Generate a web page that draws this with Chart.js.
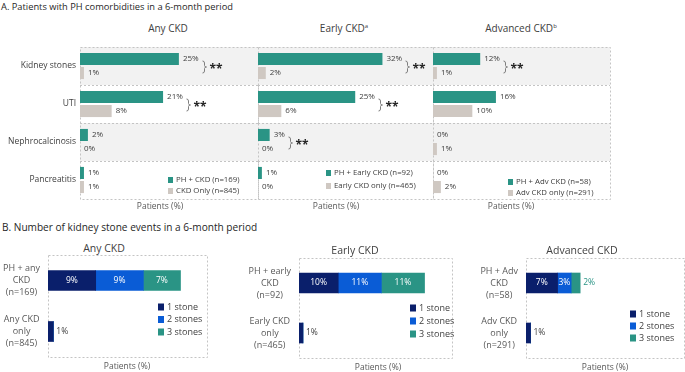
<!DOCTYPE html>
<html lang="en">
<head>
  <meta charset="UTF-8" />
  <meta name="viewport" content="width=device-width, initial-scale=1.0"/>
  <title>PH comorbidities and kidney stone events</title>
  <script src="https://cdn.jsdelivr.net/npm/chart.js"></script>
  <style>
    body {
      margin: 0;
      background: #fff;
      font-family: "Open Sans", Arial, sans-serif;
      color: #404040;
    }
    #page {
      position: relative;
      width: 685px;
      height: 372px;
      overflow: hidden;
    }
    .box { position: absolute; }
    .txt {
      position: absolute;
      white-space: nowrap;
      line-height: 1;
      transform: translate(-50%, -50%);
    }
    .head {
      position: absolute;
      white-space: nowrap;
      line-height: 1;
      color: #262626;
      transform: translateY(-50%);
    }
    .title { font-size: 10px; color: #404040; }
    .axis { font-size: 8.5px; color: #595959; }
    sup { font-size: 6px; vertical-align: 4px; }
  </style>
</head>
<body>
<div id="page">
  <div class="head" style="left:1px; top:7px; font-size:9.3px;">A. Patients with PH comorbidities in a 6-month period</div>
  <div class="txt title" style="left:168px; top:28px;">Any CKD</div>
  <div class="txt title" style="left:344px; top:28px;">Early CKD<sup>a</sup></div>
  <div class="txt title" style="left:521px; top:28px;">Advanced CKD<sup>b</sup></div>

  <div class="box" style="left:0px; top:44px; width:262px; height:160px;"><canvas id="topAny"></canvas></div>
  <div class="box" style="left:254px; top:44px; width:183px; height:160px;"><canvas id="topEarly"></canvas></div>
  <div class="box" style="left:429px; top:44px; width:185px; height:160px;"><canvas id="topAdv"></canvas></div>

  <div class="txt axis" style="left:160px; top:206px;">Patients (%)</div>
  <div class="txt axis" style="left:336px; top:206px;">Patients (%)</div>
  <div class="txt axis" style="left:511px; top:206px;">Patients (%)</div>

  <div class="head" style="left:2px; top:227px; font-size:10.1px;">B. Number of kidney stone events in a 6-month period</div>
  <div class="txt title" style="left:104px; top:248px; font-size:10.5px;">Any CKD</div>
  <div class="txt title" style="left:355px; top:250px; font-size:10.5px;">Early CKD</div>
  <div class="txt title" style="left:582px; top:250px; font-size:10.5px;">Advanced CKD</div>

  <div class="box" style="left:0px; top:250px; width:212px; height:112px;"><canvas id="botAny"></canvas></div>
  <div class="box" style="left:240px; top:253px; width:217px; height:110px;"><canvas id="botEarly"></canvas></div>
  <div class="box" style="left:466px; top:253px; width:219px; height:110px;"><canvas id="botAdv"></canvas></div>

  <div class="txt axis" style="left:127px; top:366px;">Patients (%)</div>
  <div class="txt axis" style="left:378px; top:367px;">Patients (%)</div>
  <div class="txt axis" style="left:605px; top:367px;">Patients (%)</div>
</div>

<script>
  // A. comorbidities (% of patients)
  const comorbidities = ['Kidney stones', 'UTI', 'Nephrocalcinosis', 'Pancreatitis'];
  const phAnyCkd = [25, 21, 2, 1];
  const anyCkdOnly = [1, 8, 0, 1];
  const phEarlyCkd = [32, 25, 3, 1];
  const earlyCkdOnly = [2, 6, 0, 0];
  const phAdvCkd = [12, 16, 0, 0];
  const advCkdOnly = [1, 10, 1, 2];
  // ** significance marks per row
  const sigAny = [true, true, false, false];
  const sigEarly = [true, true, true, false];
  const sigAdv = [true, false, false, false];

  // B. kidney stone events (% of patients)
  const stoneCounts = ['1 stone', '2 stones', '3 stones'];
  const anyGroups = [['PH + any', 'CKD', '(n=169)'], ['Any CKD', 'only', '(n=845)']];
  const anyOneStone = [9, 1];
  const anyTwoStones = [9, 0];
  const anyThreeStones = [7, 0];
  const earlyGroups = [['PH + early', 'CKD', '(n=92)'], ['Early CKD', 'only', '(n=465)']];
  const earlyOneStone = [10, 1];
  const earlyTwoStones = [11, 0];
  const earlyThreeStones = [11, 0];
  const advGroups = [['PH + Adv', 'CKD', '(n=58)'], ['Adv CKD', 'only', '(n=291)']];
  const advOneStone = [7, 1];
  const advTwoStones = [3, 0];
  const advThreeStones = [2, 0];

  const TEAL = '#2a9485';
  const GRAY = '#cfc8c2';
  const NAVY = '#0a1f6b';
  const BLUE = '#0a5cd6';
  const FONT = '"Open Sans", Arial, sans-serif';

  Chart.defaults.font.family = FONT;
  Chart.defaults.color = '#404040';

  // background bands, dashed frame and row separators
  const panelDecor = {
    id: 'panelDecor',
    beforeDatasetsDraw(chart, args, opts) {
      const { ctx, chartArea: a } = chart;
      const y = chart.scales.y;
      const n = chart.data.labels.length;
      const h = (a.bottom - a.top) / n;
      ctx.save();
      if (opts.bands) {
        ctx.fillStyle = '#f2f2f2';
        for (let i = 0; i < n; i += 2) {
          ctx.fillRect(a.left, y.getPixelForValue(i) - h / 2, a.right - a.left, h);
        }
      }
      ctx.strokeStyle = '#c4c4c4';
      ctx.lineWidth = 1;
      ctx.setLineDash([2, 2]);
      if (opts.bands) {
        for (let i = 1; i < n; i++) {
          const yy = Math.round(y.getPixelForValue(i) - h / 2) + 0.5;
          ctx.beginPath();
          ctx.moveTo(a.left, yy);
          ctx.lineTo(a.right, yy);
          ctx.stroke();
        }
      }
      ctx.strokeRect(Math.round(a.left) + 0.5, Math.round(a.top) + 0.5,
        Math.round(a.right - a.left), Math.round(a.bottom - a.top));
      ctx.restore();
    }
  };

  // value labels next to / inside the bars
  const valueLabels = {
    id: 'valueLabels',
    afterDatasetsDraw(chart, args, opts) {
      const { ctx } = chart;
      ctx.save();
      ctx.font = opts.font;
      ctx.textBaseline = 'middle';
      chart.data.datasets.forEach((ds, di) => {
        chart.getDatasetMeta(di).data.forEach((bar, i) => {
          const v = ds.data[i];
          const txt = v + '%';
          if (!opts.stacked) {
            ctx.fillStyle = '#404040';
            ctx.textAlign = 'left';
            ctx.fillText(txt, bar.x + 4, bar.y);
            return;
          }
          if (!v) return;
          const w = bar.x - bar.base;
          if (w >= 12) {
            ctx.fillStyle = '#ffffff';
            ctx.textAlign = 'center';
            ctx.fillText(txt, (bar.x + bar.base) / 2, bar.y);
          } else {
            const others = chart.data.datasets.some((d, k) => k !== di && d.data[i] > 0);
            ctx.fillStyle = others ? ds.backgroundColor : '#404040';
            ctx.textAlign = 'left';
            ctx.fillText(txt, bar.x + 3, bar.y);
          }
        });
      });
      ctx.restore();
    }
  };

  // "}" bracket with ** for significant rows
  const sigBrackets = {
    id: 'sigBrackets',
    afterDatasetsDraw(chart, args, opts) {
      if (!opts.marks) return;
      const { ctx } = chart;
      const m0 = chart.getDatasetMeta(0), m1 = chart.getDatasetMeta(1);
      const d0 = chart.data.datasets[0].data, d1 = chart.data.datasets[1].data;
      ctx.save();
      opts.marks.forEach((on, i) => {
        if (!on) return;
        ctx.font = opts.labelFont;
        const b0 = m0.data[i], b1 = m1.data[i];
        const e0 = b0.x + 4 + ctx.measureText(d0[i] + '%').width;
        const e1 = b1.x + 4 + ctx.measureText(d1[i] + '%').width;
        const x = Math.round(Math.max(e0, e1) + 3) + 0.5;
        const mid = (b0.y + b1.y) / 2 + 1;
        const t = mid - 6, b = mid + 6;
        ctx.strokeStyle = '#7f7f7f';
        ctx.lineWidth = 1;
        ctx.beginPath();
        ctx.moveTo(x, t);
        ctx.quadraticCurveTo(x + 2, t, x + 2, t + 2);
        ctx.lineTo(x + 2, mid - 1.5);
        ctx.quadraticCurveTo(x + 2, mid, x + 4, mid);
        ctx.quadraticCurveTo(x + 2, mid, x + 2, mid + 1.5);
        ctx.lineTo(x + 2, b - 2);
        ctx.quadraticCurveTo(x + 2, b, x, b);
        ctx.stroke();
        ctx.fillStyle = '#262626';
        ctx.font = 'bold 12px ' + FONT;
        ctx.textAlign = 'left';
        ctx.textBaseline = 'middle';
        ctx.fillText('**', x + 7, mid + 3);
      });
      ctx.restore();
    }
  };

  // small square legend drawn inside the plot area
  const boxLegend = {
    id: 'boxLegend',
    afterDraw(chart, args, opts) {
      const { ctx, chartArea: a } = chart;
      ctx.save();
      ctx.font = opts.font;
      ctx.textBaseline = 'middle';
      ctx.textAlign = 'left';
      chart.data.datasets.forEach((ds, i) => {
        const y = a.top + opts.y + i * opts.gap;
        ctx.fillStyle = ds.backgroundColor;
        ctx.fillRect(a.left + opts.x, y - opts.size / 2, opts.size - 1, opts.size);
        ctx.fillStyle = opts.color;
        ctx.fillText(ds.label, a.left + opts.x + opts.size + 2, y);
      });
      ctx.restore();
    }
  };

  function topChart(id, labels, phData, onlyData, marks, padding, showLabels, legendPos) {
    new Chart(document.getElementById(id), {
      type: 'bar',
      data: {
        labels: comorbidities,
        datasets: [
          { label: labels[0], data: phData, backgroundColor: TEAL,
            categoryPercentage: 0.74, barPercentage: 0.86 },
          { label: labels[1], data: onlyData, backgroundColor: GRAY,
            categoryPercentage: 0.74, barPercentage: 0.86 }
        ]
      },
      options: {
        indexAxis: 'y',
        responsive: true,
        maintainAspectRatio: false,
        animation: false,
        layout: { padding },
        scales: {
          x: { display: false, min: 0, max: 45 },
          y: {
            display: showLabels,
            grid: { display: false, drawTicks: false },
            border: { display: false },
            ticks: { padding: 4, autoSkip: false, font: { size: 8.5 }, color: '#404040' },
            afterFit(axis) {
              axis.width = showLabels ? 80 : 0;
              axis.paddingTop = 0;
              axis.paddingBottom = 0;
            }
          }
        },
        plugins: {
          legend: { display: false },
          tooltip: { enabled: false },
          panelDecor: { bands: true },
          valueLabels: { font: '8px ' + FONT, stacked: false },
          sigBrackets: { marks, labelFont: '8px ' + FONT },
          boxLegend: Object.assign({ font: '7.8px ' + FONT, color: '#404040', size: 6 }, legendPos)
        }
      },
      plugins: [panelDecor, valueLabels, sigBrackets, boxLegend]
    });
  }

  function stoneChart(id, groups, one, two, three, axisWidth, padding, max, legendPos) {
    new Chart(document.getElementById(id), {
      type: 'bar',
      data: {
        labels: groups,
        datasets: [
          { label: stoneCounts[0], data: one, backgroundColor: NAVY, barThickness: 20 },
          { label: stoneCounts[1], data: two, backgroundColor: BLUE, barThickness: 20 },
          { label: stoneCounts[2], data: three, backgroundColor: TEAL, barThickness: 20 }
        ]
      },
      options: {
        indexAxis: 'y',
        responsive: true,
        maintainAspectRatio: false,
        animation: false,
        layout: { padding },
        scales: {
          x: { display: false, stacked: true, min: 0, max },
          y: {
            stacked: true,
            grid: { display: false, drawTicks: false },
            border: { display: false },
            ticks: {
              padding: 8, autoSkip: false, crossAlign: 'center',
              font: { size: 9, lineHeight: 1.33 }, color: '#595959'
            },
            afterFit(axis) {
              axis.width = axisWidth;
              axis.paddingTop = 0;
              axis.paddingBottom = 0;
            }
          }
        },
        plugins: {
          legend: { display: false },
          tooltip: { enabled: false },
          panelDecor: { bands: false },
          valueLabels: { font: '8.5px ' + FONT, stacked: true },
          boxLegend: Object.assign({ font: '9px ' + FONT, color: '#404040', size: 7 }, legendPos)
        }
      },
      plugins: [panelDecor, valueLabels, boxLegend]
    });
  }

  topChart('topAny', ['PH + CKD (n=169)', 'CKD Only (n=845)'], phAnyCkd, anyCkdOnly, sigAny,
    { left: 0, top: 3, right: 4, bottom: 5 }, true, { x: 88, y: 133, gap: 11 });
  topChart('topEarly', ['PH + Early CKD (n=92)', 'Early CKD only (n=465)'], phEarlyCkd, earlyCkdOnly, sigEarly,
    { left: 4, top: 3, right: 4, bottom: 5 }, false, { x: 68, y: 126, gap: 13 });
  topChart('topAdv', ['PH + Adv CKD (n=58)', 'Adv CKD only (n=291)'], phAdvCkd, advCkdOnly, sigAdv,
    { left: 4, top: 3, right: 4, bottom: 5 }, false, { x: 75, y: 135, gap: 11 });

  stoneChart('botAny', anyGroups, anyOneStone, anyTwoStones, anyThreeStones, 48,
    { left: 0, top: 5, right: 5, bottom: 5 }, 30, { x: 110, y: 52, gap: 12.5 });
  stoneChart('botEarly', earlyGroups, earlyOneStone, earlyTwoStones, earlyThreeStones, 59,
    { left: 0, top: 5, right: 5, bottom: 5 }, 39, { x: 111, y: 50, gap: 13 });
  stoneChart('botAdv', advGroups, advOneStone, advTwoStones, advThreeStones, 60,
    { left: 0, top: 5, right: 1, bottom: 5 }, 35, { x: 104, y: 56, gap: 12 });
</script>
</body>
</html>
